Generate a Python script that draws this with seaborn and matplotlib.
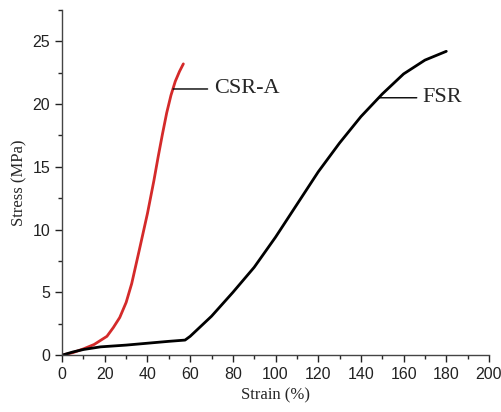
import matplotlib.pyplot as plt
import seaborn as sns
import pandas as pd
from matplotlib.ticker import MultipleLocator

# Curvas tensao-deformacao
csr_strain = [0, 5, 10, 15, 21, 24, 27, 30, 32.6, 36.2, 40, 43, 45, 47, 49, 51, 53, 55, 56.8]
csr_stress = [0, 0.2, 0.5, 0.85, 1.5, 2.2, 3.0, 4.2, 5.7, 8.4, 11.3, 13.9, 15.8, 17.6, 19.3, 20.7, 21.8, 22.6, 23.2]

fsr_strain = [0, 5, 10, 18, 30, 40, 50, 57.6, 60, 65, 70, 80, 90, 100, 110, 120, 130, 140, 150, 160, 170, 180]
fsr_stress = [0, 0.25, 0.45, 0.66, 0.8, 0.95, 1.1, 1.2, 1.5, 2.3, 3.1, 5.0, 7.0, 9.4, 12.0, 14.6, 16.9, 19.0, 20.8, 22.4, 23.5, 24.2]

df = pd.concat([
    pd.DataFrame({"strain": csr_strain, "stress": csr_stress, "amostra": "CSR-A"}),
    pd.DataFrame({"strain": fsr_strain, "stress": fsr_stress, "amostra": "FSR"}),
])

sns.set_style("ticks")
plt.rcParams["font.family"] = ["Liberation Sans", "DejaVu Sans"]

fig = plt.figure(figsize=(5.01, 4.12), dpi=100)
ax = fig.add_axes([0.124, 0.138, 0.852, 0.838])

sns.lineplot(data=df, x="strain", y="stress", hue="amostra",
             palette={"CSR-A": "#d42a2a", "FSR": "black"},
             linewidth=2, legend=False, ax=ax, sort=False)

ax.set_xlim(0, 200)
ax.set_ylim(0, 27.5)
ax.xaxis.set_major_locator(MultipleLocator(20))
ax.xaxis.set_minor_locator(MultipleLocator(10))
ax.yaxis.set_major_locator(MultipleLocator(5))
ax.yaxis.set_minor_locator(MultipleLocator(2.5))
ax.tick_params(which="major", direction="out", length=5, width=1, labelsize=11.5, colors="#222222")
ax.tick_params(which="minor", direction="out", length=3, width=1)
for s in ["top", "right"]:
    ax.spines[s].set_visible(False)
for s in ["left", "bottom"]:
    ax.spines[s].set_linewidth(1)
    ax.spines[s].set_color("#444444")

ax.set_xlabel("Strain (%)", fontfamily="Liberation Serif", fontsize=12)
ax.set_ylabel("Stress (MPa)", fontfamily="Liberation Serif", fontsize=12)

# rotulos das curvas
ax.annotate("CSR-A", xy=(52, 21.2), xytext=(71, 21.2), fontfamily="Liberation Serif",
            fontsize=16, va="center",
            arrowprops=dict(arrowstyle="-", color="black", lw=1, shrinkA=2, shrinkB=0))
ax.annotate("FSR", xy=(148.5, 20.5), xytext=(169, 20.5), fontfamily="Liberation Serif",
            fontsize=16, va="center",
            arrowprops=dict(arrowstyle="-", color="black", lw=1, shrinkA=2, shrinkB=0))

plt.savefig("out.png", dpi=100)
plt.close()
